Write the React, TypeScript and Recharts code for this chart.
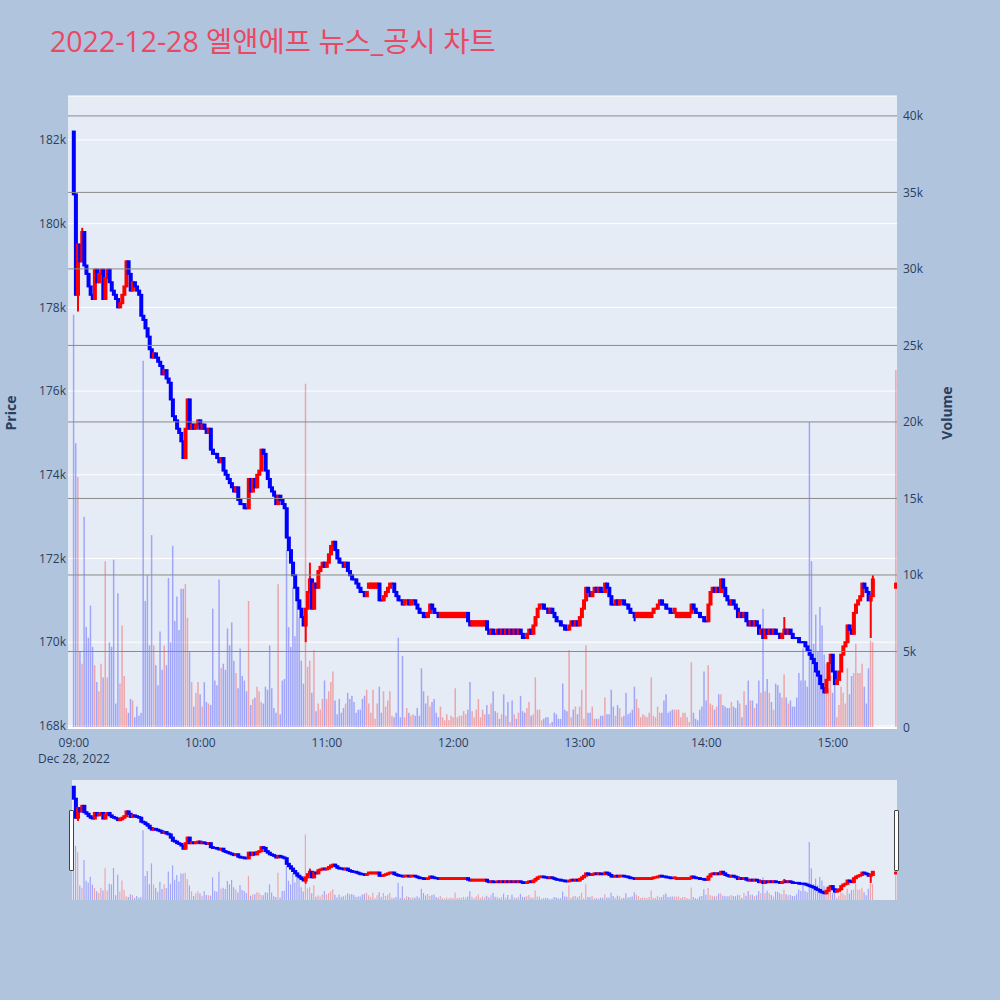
import React from "react";
import { ComposedChart, Bar, XAxis, YAxis, CartesianGrid, Cell, ReferenceLine } from "recharts";

const TITLE = "2022-12-28 엘앤에프 뉴스_공시 차트";
const DATE_LABEL = "Dec 28, 2022";

// 1-minute closes (won), first candle opened at 182,200
const firstOpen = 182200;
const close0900 = [
  180700, 178300, 179500, 179100, 179800, 179000, 178800, 178500, 178300, 178200,
  178900, 178600, 178800, 178900, 178200, 178700, 178900, 178600, 178400, 178300,
  178200, 178000, 178100, 178300, 178500, 179100, 178800, 178400, 178600, 178500,
  178400, 178300, 177800, 177700, 177500, 177300, 177000, 176800, 176900, 176800,
  176700, 176600, 176400, 176500, 176300, 176200, 175800, 175400, 175300, 175100,
  175000, 174800, 174400, 175100, 175800, 175100, 175200, 175100, 175200, 175300,
];
const close1000 = [
  175100, 175200, 175100, 175000, 175100, 174600, 174500, 174500, 174400, 174300,
  174400, 174100, 174000, 173900, 173800, 173700, 173600, 173700, 173400, 173300,
  173300, 173200, 173200, 173900, 173600, 173900, 173700, 174000, 174100, 174600,
  174500, 174100, 173900, 173700, 173600, 173500, 173300, 173500, 173400, 173300,
  173200, 172500, 172200, 171900, 171600, 171300, 171000, 170800, 170600, 170400,
  170800, 171200, 171500, 170800, 171400, 171300, 171700, 171800, 171900, 171800,
];
const close1100 = [
  171900, 172100, 172300, 172400, 172200, 172000, 171900, 171900, 171800, 171900,
  171700, 171600, 171500, 171500, 171400, 171300, 171200, 171200, 171100, 171200,
  171400, 171400, 171400, 171400, 171400, 171000, 171000, 171100, 171200, 171300,
  171400, 171400, 171200, 171100, 171000, 171000, 170900, 171000, 171000, 170900,
  171000, 171000, 170900, 170800, 170700, 170700, 170600, 170600, 170700, 170900,
  170800, 170700, 170700, 170600, 170700, 170700, 170700, 170700, 170700, 170700,
];
const close1200 = [
  170700, 170700, 170700, 170700, 170700, 170700, 170700, 170500, 170400, 170500,
  170500, 170500, 170500, 170500, 170500, 170500, 170300, 170200, 170300, 170200,
  170200, 170300, 170200, 170300, 170200, 170300, 170200, 170300, 170200, 170300,
  170200, 170300, 170200, 170100, 170100, 170200, 170300, 170200, 170400, 170600,
  170800, 170900, 170900, 170800, 170800, 170700, 170800, 170700, 170600, 170500,
  170500, 170400, 170400, 170300, 170300, 170400, 170500, 170400, 170500, 170400,
];
const close1300 = [
  170600, 170800, 171000, 171300, 171200, 171100, 171200, 171300, 171200, 171300,
  171200, 171200, 171400, 171300, 171100, 170900, 170900, 171000, 170900, 171000,
  171000, 170900, 170900, 170800, 170700, 170700, 170600, 170700, 170700, 170700,
  170700, 170700, 170700, 170700, 170700, 170800, 170800, 170900, 171000, 170900,
  170900, 170800, 170800, 170700, 170700, 170800, 170700, 170700, 170700, 170700,
  170700, 170700, 170700, 170900, 170800, 170700, 170700, 170600, 170600, 170500,
];
const close1400 = [
  170500, 170900, 171200, 171300, 171200, 171300, 171200, 171500, 171300, 171100,
  171000, 170900, 171000, 170900, 170800, 170600, 170700, 170600, 170700, 170500,
  170400, 170500, 170400, 170500, 170400, 170200, 170300, 170100, 170300, 170200,
  170300, 170200, 170300, 170200, 170200, 170100, 170200, 170300, 170200, 170300,
  170200, 170100, 170100, 170100, 170000, 170000, 170000, 169900, 169800, 169700,
  169600, 169500, 169300, 169200, 169000, 168900, 168800, 169100, 169500, 169700,
];
const close1500 = [
  169300, 169000, 169100, 169300, 169700, 169900, 170000, 170400, 170300, 170200,
  170700, 170900, 171000, 171100, 171400, 171300, 171200, 171000, 171100, 171500,
];

// stretches where every minute opened one tick below its close: [from, to, open]
const steadyOpens: [string, string, number][] = [
  ["11:20", "11:24", 171300],
  ["11:54", "12:06", 170600],
  ["12:09", "12:15", 170400],
  ["13:27", "13:34", 170600],
  ["13:46", "13:52", 170600],
];

// volume per minute (shares)
const vol0900 = [
  27000, 18600, 16400, 5000, 4200, 13800, 6600, 5900, 8000, 5300,
  4100, 3000, 2400, 4200, 3300, 10900, 3300, 5600, 5300, 11000,
  1600, 8800, 2900, 6700, 3400, 1300, 1000, 1900, 1800, 700,
  1400, 800, 1000, 24000, 8300, 10000, 5400, 12600, 5400, 4100,
  2800, 6300, 3800, 5400, 4100, 9800, 5600, 11900, 7000, 8600,
  6400, 9100, 9100, 9400, 7200, 5000, 3000, 1400, 2300, 3000,
];
const vol1000 = [
  2200, 1400, 3000, 1700, 1600, 1500, 7800, 3100, 2800, 9700,
  3900, 4200, 3800, 6500, 5400, 6900, 4400, 3600, 2600, 5200,
  3400, 3100, 2400, 8300, 1500, 1900, 2000, 2700, 2400, 1700,
  1600, 2700, 2500, 5400, 2600, 1300, 1000, 9400, 900, 3100,
  3200, 11600, 6600, 5300, 9200, 6000, 8900, 7200, 4400, 2900,
  22500, 4000, 4400, 2300, 5100, 1100, 1600, 1200, 1900, 3100,
];
const vol1100 = [
  1900, 2400, 3000, 3700, 1800, 900, 1900, 1000, 1300, 1600,
  2300, 1900, 2100, 1700, 1000, 1200, 1200, 1900, 2100, 2500,
  1600, 1000, 2500, 600, 1600, 2700, 1000, 2400, 1400, 1800,
  2400, 800, 700, 1000, 5900, 700, 4700, 700, 1300, 1000,
  800, 900, 800, 1300, 800, 3900, 2400, 1600, 2100, 1400,
  1700, 1900, 1000, 700, 1400, 700, 500, 900, 500, 800,
];
const vol1200 = [
  700, 2600, 700, 800, 800, 1100, 900, 1200, 3000, 1100,
  700, 1200, 1900, 700, 1200, 900, 1500, 900, 1600, 2400,
  1100, 1000, 600, 900, 2200, 800, 1700, 400, 1800, 900,
  600, 1000, 2100, 1100, 1000, 1300, 1700, 800, 900, 3300,
  1200, 1200, 500, 600, 700, 700, 300, 400, 1000, 900,
  600, 600, 2900, 1200, 1100, 5100, 700, 1200, 1400, 900,
];
const vol1300 = [
  1400, 2500, 600, 5400, 1000, 1000, 1400, 600, 600, 600,
  800, 800, 2000, 900, 900, 2500, 1400, 800, 1500, 1300,
  700, 800, 2300, 900, 1000, 1200, 2700, 1900, 1300, 700,
  900, 800, 700, 1000, 3300, 800, 700, 1400, 1000, 1000,
  1800, 2200, 1000, 1100, 1200, 1200, 1200, 1200, 700, 1000,
  1000, 700, 400, 4300, 1000, 600, 500, 1200, 1400, 3700,
];
const vol1400 = [
  1800, 4100, 1600, 1500, 1200, 1400, 2200, 2200, 1500, 1400,
  1300, 1300, 1700, 1400, 1300, 1800, 1600, 700, 2400, 1500,
  3100, 1800, 1800, 1300, 1600, 3100, 2300, 7800, 2400, 3200,
  2300, 1700, 1200, 2900, 2800, 2300, 2000, 3500, 2000, 1600,
  1800, 1400, 1400, 2000, 3600, 3100, 5200, 3100, 2700, 20000,
  10900, 5500, 7400, 5000, 7900, 6700, 4800, 4200, 2600, 3400,
];
const vol1500 = [
  2300, 3700, 700, 1500, 2700, 2300, 1600, 3900, 2200, 3400,
  3600, 5500, 3600, 3600, 4200, 2700, 1600, 3900, 5700, 5600,
];

// closing single-price auction
const closingAuction = { time: "15:30", open: 171300, close: 171400, volume: 23400 };

// minutes whose wick reaches past the body: [time, low, high]
const wicks: [string, number, number][] = [
  ["09:02", 177900, 179500],
  ["09:04", 179100, 179900],
  ["10:50", 170000, 170800],
  ["10:52", 171200, 171900],
  ["13:26", 170500, 170700],
  ["14:37", 170200, 170600],
  ["15:18", 170100, 171100],
  ["15:19", 171100, 171600],
];

const timeTicks = ["09:00", "10:00", "11:00", "12:00", "13:00", "14:00", "15:00"];
const priceTicks = [168000, 170000, 172000, 174000, 176000, 178000, 180000, 182000];
const volumeTicks = [0, 5000, 10000, 15000, 20000, 25000, 30000, 35000, 40000];

const UP = "#ff0000";
const DOWN = "#0000ff";
const AXIS = "#2a3f5f";
const FONT = '"Open Sans", verdana, arial, sans-serif';
const PLOT_BG = "#e5ecf6";

const toMin = (s: string) => {
  const [h, m] = s.split(":").map(Number);
  return (h - 9) * 60 + m;
};
const toTime = (m: number) => {
  const h = 9 + Math.floor(m / 60);
  return `${String(h).padStart(2, "0")}:${String(m % 60).padStart(2, "0")}`;
};

const closes = [...close0900, ...close1000, ...close1100, ...close1200, ...close1300, ...close1400, ...close1500];
const volumes = [...vol0900, ...vol1000, ...vol1100, ...vol1200, ...vol1300, ...vol1400, ...vol1500];
const wickMap = new Map(wicks.map(([t, lo, hi]) => [toMin(t), [lo, hi]]));
const openAt = (i: number) => {
  const run = steadyOpens.find(([a, b]) => i >= toMin(a) && i <= toMin(b));
  if (run) return run[2];
  return i === 0 ? firstOpen : closes[i - 1];
};

const makeRow = (t: number, open: number, close: number, volume: number, up: boolean) => {
  const w = wickMap.get(t);
  const low = Math.min(open, close, w ? w[0] : Infinity);
  const high = Math.max(open, close, w ? w[1] : -Infinity);
  return { t, open, close, low, high, range: [low, high], volume, up };
};

let prevUp = false;
const rows = closes.map((close, i) => {
  const open = openAt(i);
  const up = close > open ? true : close < open ? false : prevUp;
  prevUp = up;
  return makeRow(i, open, close, volumes[i], up);
});
rows.push(
  makeRow(
    toMin(closingAuction.time),
    closingAuction.open,
    closingAuction.close,
    closingAuction.volume,
    closingAuction.close >= closingAuction.open
  )
);

const X_DOMAIN: [number, number] = [-2.8, 390.4];
const PRICE_DOMAIN: [number, number] = [167950, 183050];
const VOL_DOMAIN: [number, number] = [0, 41300];

const Candle = (props: any) => {
  const { x, y, width, height, payload } = props;
  if (!payload) return null;
  const { open, close, low, high, up } = payload;
  const color = up ? UP : DOWN;
  const cx = x + width / 2;
  const span = high - low;
  const py = (v: number) => (span === 0 ? y : y + ((high - v) / span) * height);
  const top = py(Math.max(open, close));
  const bottom = py(Math.min(open, close));
  const hasWick = span > Math.abs(close - open);
  return (
    <g>
      {hasWick && <line x1={cx} x2={cx} y1={py(high)} y2={py(low)} stroke={color} strokeWidth={2} />}
      <rect x={cx - 2} y={Math.min(top, bottom) - 1} width={4} height={Math.abs(bottom - top) + 2} fill={color} />
    </g>
  );
};

const TimeTick = ({ x, y, payload }: any) => (
  <text x={x} y={y} textAnchor="middle" fill={AXIS} fontSize={12} fontFamily={FONT}>
    <tspan x={x} dy={11}>{toTime(payload.value)}</tspan>
    {payload.value === 0 && (
      <tspan x={x} dy={16}>
        {DATE_LABEL}
      </tspan>
    )}
  </text>
);

const kFormat = (v: number) => (v === 0 ? "0" : `${v / 1000}k`);

const App = () => {
  const volumeCells = rows.map((r, i) => <Cell key={`v-${i}`} fill={r.up ? UP : DOWN} />);
  return (
    <div
      style={{
        position: "fixed",
        left: 0,
        top: 0,
        width: 1000,
        height: 1000,
        background: "#b0c4de",
        overflow: "hidden",
        fontFamily: FONT,
      }}
    >
      <div
        style={{
          position: "absolute",
          left: 50,
          top: 24,
          fontSize: 28.5,
          lineHeight: "34px",
          color: "#ea4863",
          fontFamily: '"Open Sans", "Noto Sans CJK KR", sans-serif',
          whiteSpace: "nowrap",
        }}
      >
        {TITLE}
      </div>

      <div
        style={{
          position: "absolute",
          left: 10,
          top: 413,
          transform: "translate(-50%, -50%) rotate(-90deg)",
          fontSize: 14,
          fontWeight: "bold",
          color: AXIS,
        }}
      >
        Price
      </div>
      <div
        style={{
          position: "absolute",
          left: 946,
          top: 413,
          transform: "translate(-50%, -50%) rotate(-90deg)",
          fontSize: 14,
          fontWeight: "bold",
          color: AXIS,
        }}
      >
        Volume
      </div>

      <div style={{ position: "absolute", left: 0, top: 0 }}>
        <ComposedChart width={1000} height={780} data={rows} margin={{ top: 96, right: 43, bottom: 12, left: 8 }}>
          <XAxis
            xAxisId="t"
            dataKey="t"
            type="number"
            domain={X_DOMAIN}
            ticks={timeTicks.map(toMin)}
            tick={<TimeTick />}
            axisLine={false}
            tickLine={false}
            height={40}
            allowDataOverflow
          />
          <XAxis xAxisId="tv" dataKey="t" type="number" domain={X_DOMAIN} hide allowDataOverflow />
          <YAxis
            yAxisId="p"
            domain={PRICE_DOMAIN}
            ticks={priceTicks}
            tickFormatter={kFormat}
            width={60}
            axisLine={false}
            tickLine={false}
            tickSize={0}
            tickMargin={2}
            tick={{ fill: AXIS, fontSize: 12, fontFamily: FONT }}
            allowDataOverflow
          />
          <YAxis
            yAxisId="v"
            orientation="right"
            domain={VOL_DOMAIN}
            ticks={volumeTicks}
            tickFormatter={kFormat}
            width={60}
            axisLine={false}
            tickLine={false}
            tickSize={0}
            tickMargin={6}
            tick={{ fill: AXIS, fontSize: 12, fontFamily: FONT, textAnchor: "start" }}
            allowDataOverflow
          />
          <CartesianGrid xAxisId="t" yAxisId="p" vertical={false} stroke="#ffffff" fill={PLOT_BG} />
          <Bar xAxisId="tv" yAxisId="v" dataKey="volume" barSize={1.5} fillOpacity={0.3} isAnimationActive={false}>
            {volumeCells}
          </Bar>
          {volumeTicks.map((v) => (
            <ReferenceLine
              key={`vg-${v}`}
              xAxisId="tv"
              yAxisId="v"
              y={v}
              stroke={v === 0 ? "#ffffff" : "#8a8a8a"}
              strokeWidth={v === 0 ? 2 : 1}
            />
          ))}
          <Bar xAxisId="t" yAxisId="p" dataKey="range" barSize={4} shape={Candle} isAnimationActive={false} />
        </ComposedChart>
      </div>

      <div style={{ position: "absolute", left: 72, top: 780, width: 825, height: 120, background: PLOT_BG }} />
      <div style={{ position: "absolute", left: 68, top: 780, width: 829, height: 120 }}>
        <ComposedChart width={829} height={120} data={rows} margin={{ top: 0, right: 0, bottom: 0, left: 0 }}>
          <XAxis xAxisId="t" dataKey="t" type="number" domain={X_DOMAIN} hide allowDataOverflow />
          <XAxis xAxisId="tv" dataKey="t" type="number" domain={X_DOMAIN} hide allowDataOverflow />
          <YAxis yAxisId="p" domain={PRICE_DOMAIN} hide allowDataOverflow />
          <YAxis yAxisId="v" domain={VOL_DOMAIN} hide allowDataOverflow />
          <Bar xAxisId="tv" yAxisId="v" dataKey="volume" barSize={1.2} fillOpacity={0.3} isAnimationActive={false}>
            {volumeCells}
          </Bar>
          <Bar xAxisId="t" yAxisId="p" dataKey="range" barSize={4} shape={Candle} isAnimationActive={false} />
        </ComposedChart>
      </div>
      <div
        style={{
          position: "absolute",
          left: 69,
          top: 810,
          width: 3,
          height: 59,
          background: "#ffffff",
          border: "1px solid #444",
          borderRadius: 1,
        }}
      />
      <div
        style={{
          position: "absolute",
          left: 894,
          top: 810,
          width: 3,
          height: 59,
          background: "#ffffff",
          border: "1px solid #444",
          borderRadius: 1,
        }}
      />
    </div>
  );
};

export default App;
